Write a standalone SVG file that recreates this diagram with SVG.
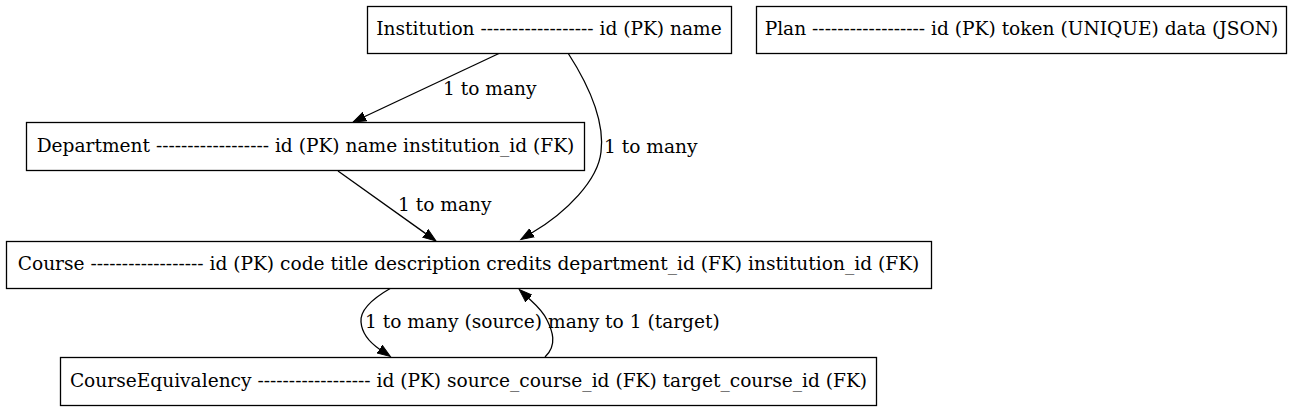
<svg xmlns="http://www.w3.org/2000/svg" width="1292" height="412" viewBox="0 0 1292 412">
<style>
.node rect{fill:#fff;stroke:#000;stroke-width:1.3}
text{font-family:"DejaVu Serif","Liberation Serif",serif;font-size:18.6px;fill:#000}
.node text{text-anchor:middle}
.edge path{fill:none;stroke:#000;stroke-width:1.3}
</style>
<defs>
<marker id="arr" markerUnits="userSpaceOnUse" markerWidth="15" markerHeight="12" refX="0" refY="5" orient="auto" viewBox="0 0 15 10">
<path d="M0,0.3 L13,5 L0,9.7 Z" fill="#000" stroke="#000" stroke-width="1"/>
</marker>
</defs>
<rect width="1292" height="412" fill="#fff"/>
<g id="connectors" class="edge">
<path d="M500,53 L364.8,116.5" marker-end="url(#arr)"/>
<path d="M568,53 C588,84 605,120 601,152 C598,180 567,212 532,232.8" marker-end="url(#arr)"/>
<path d="M338,171 L425.4,233.4" marker-end="url(#arr)"/>
<path d="M391,288 C370,300 360,312 361,322 C362,334 369,342 379.6,349.2" marker-end="url(#arr)"/>
<path d="M545,357 C558,345 552,330 547,320 C543,311 536,305 528.8,298.4" marker-end="url(#arr)"/>
<text x="443" y="95">1 to many</text>
<text x="604" y="153">1 to many</text>
<text x="398" y="211">1 to many</text>
<text x="365" y="328">1 to many (source)</text>
<text x="548" y="328">many to 1 (target)</text>
</g>
<g id="Institution" class="node">
<rect x="367.5" y="6.5" width="364" height="47"/>
<text x="549" y="35">Institution ------------------ id (PK) name</text>
</g>
<g id="Plan" class="node">
<rect x="756.5" y="6.5" width="530" height="47"/>
<text x="1021.5" y="35">Plan ------------------ id (PK) token (UNIQUE) data (JSON)</text>
</g>
<g id="Department" class="node">
<rect x="26.5" y="122.5" width="558" height="48"/>
<text x="305.5" y="152">Department ------------------ id (PK) name institution_id (FK)</text>
</g>
<g id="Course" class="node">
<rect x="6.5" y="241.5" width="925" height="47"/>
<text x="468.5" y="270">Course ------------------ id (PK) code title description credits department_id (FK) institution_id (FK)</text>
</g>
<g id="CourseEquivalency" class="node">
<rect x="60.5" y="357.5" width="816" height="48"/>
<text x="468.5" y="387">CourseEquivalency ------------------ id (PK) source_course_id (FK) target_course_id (FK)</text>
</g>
</svg>
